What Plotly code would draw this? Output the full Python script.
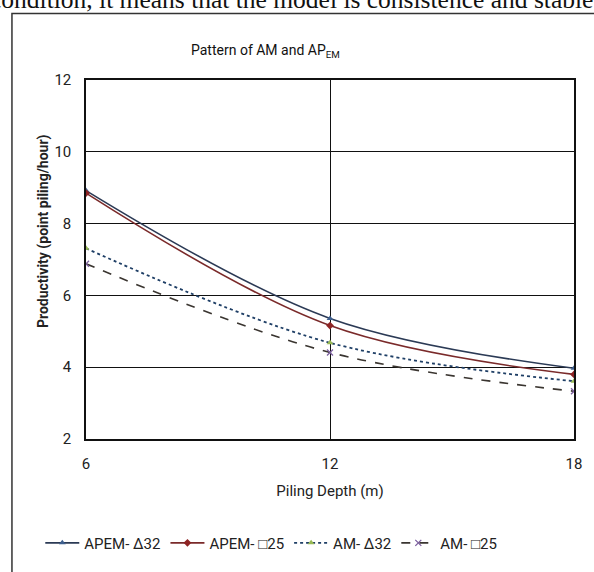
import plotly.graph_objects as go

depth = [6, 12, 18]
apem_d32 = [8.92, 5.36, 3.97]
apem_s25 = [8.85, 5.16, 3.80]
am_d32 = [7.31, 4.68, 3.61]
am_s25 = [6.88, 4.41, 3.33]

names = ["APEM- Δ32", "APEM- □25", "AM- Δ32", "AM- □25"]
y_ticks = [2, 4, 6, 8, 10, 12]
x_ticks = [6, 12, 18]

FONT = "Roboto, Arial"

fig = go.Figure()
styles = [
    dict(line=dict(color="#2B3A55", width=1.6, shape="spline"),
         marker=dict(symbol="triangle-up", size=6, color="#3E5F8E")),
    dict(line=dict(color="#7A2A2A", width=1.6, shape="spline"),
         marker=dict(symbol="diamond", size=6, color="#8E2424")),
    dict(line=dict(color="#1F3F66", width=1.8, dash="dot", shape="spline"),
         marker=dict(symbol="triangle-up", size=6, color="#98B954")),
    dict(line=dict(color="#3A3530", width=1.6, dash="dash", shape="spline"),
         marker=dict(symbol="x-thin", size=6, color="#7D60A0",
                     line=dict(width=1.3, color="#7D60A0"))),
]
for nm, ys, st in zip(names, [apem_d32, apem_s25, am_d32, am_s25], styles):
    fig.add_trace(go.Scatter(x=depth, y=ys, name=nm, mode="lines+markers",
                             line=st["line"], marker=st["marker"]))

fig.update_layout(
    width=594, height=572,
    margin=dict(l=86, r=17, t=80, b=130),
    paper_bgcolor="white", plot_bgcolor="white",
    font=dict(family=FONT, color="#222", size=14),
    showlegend=True,
    legend=dict(orientation="h", x=(40 - 86) / 491, xanchor="left", y=-0.29,
                yanchor="middle", font=dict(size=15, family=FONT),
                itemwidth=34, tracegroupgap=0,
                bgcolor="rgba(0,0,0,0)"),
    xaxis=dict(range=[6, 18], tickvals=x_ticks, showgrid=True,
               gridcolor="#111", gridwidth=1.3, showline=True,
               linecolor="#111", linewidth=1.5, mirror=True, ticks="",
               ticklabelstandoff=10, zeroline=False,
               tickfont=dict(size=15, family=FONT),
               title=dict(text="Piling Depth (m)", standoff=14,
                          font=dict(size=15, family=FONT))),
    yaxis=dict(range=[2, 12], tickvals=y_ticks, showgrid=True,
               gridcolor="#111", gridwidth=1.3, showline=True,
               linecolor="#111", linewidth=1.5, mirror=True, ticks="",
               ticklabelstandoff=10, zeroline=False,
               tickfont=dict(size=15, family=FONT)),
)

fig.add_annotation(text="Pattern of AM and AP<sub>EM</sub>", xref="paper", yref="paper",
                   x=(267 - 86) / 491, y=1 + (80 - 51) / 362, xanchor="center",
                   yanchor="middle", showarrow=False,
                   font=dict(size=14, family=FONT, color="#111"))
fig.add_annotation(text="<b>Productivity (point piling/hour)</b>", xref="paper", yref="paper",
                   x=(43 - 86) / 491, y=1 - (232 - 80) / 362, textangle=-90,
                   xanchor="center", yanchor="middle", showarrow=False,
                   font=dict(size=14, family=FONT, color="#222"))
fig.add_annotation(text="condition, it means that the model is consistence and stable",
                   xref="paper", yref="paper", x=(-13 - 86) / 491,
                   y=1 + (80 - 15) / 362, xanchor="left", yanchor="bottom",
                   showarrow=False,
                   font=dict(size=25.5, family="Liberation Serif, Times New Roman", color="#111"))
fig.add_shape(type="rect", xref="paper", yref="paper",
              x0=(11.5 - 86) / 491, x1=1.2, y0=-0.5, y1=1 + (80 - 13) / 362,
              line=dict(color="#333", width=1.5), layer="below")

fig.write_html("out.html", config={"displayModeBar": False},
               post_script="document.body.style.margin='0';")
